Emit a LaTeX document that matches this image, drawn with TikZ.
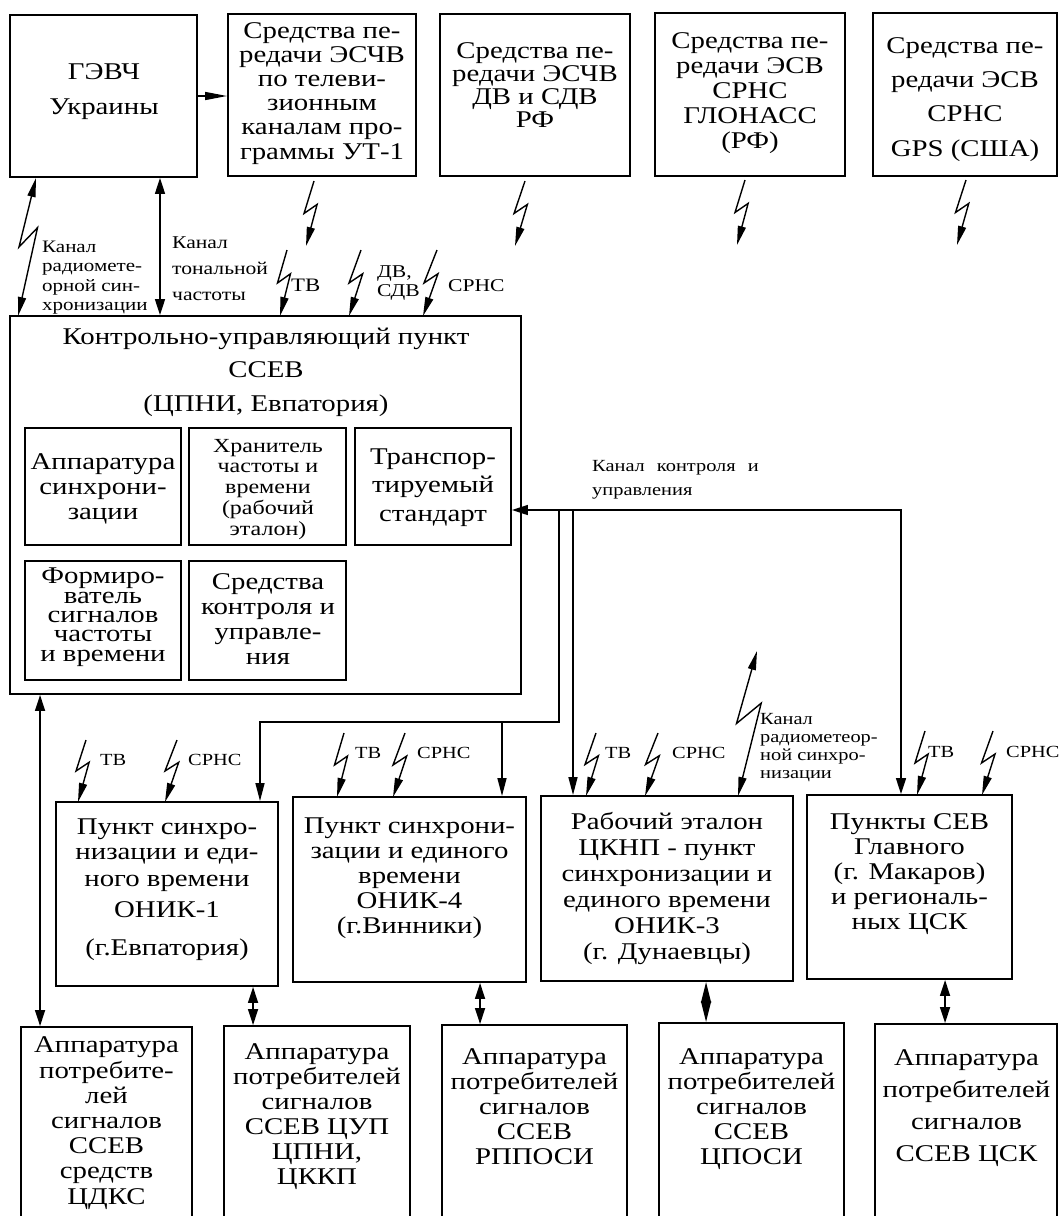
\documentclass[tikz,border=0pt]{standalone}
\usepackage{fontspec}
\setmainfont{Liberation Serif}[FakeStretch=1.2]
\usetikzlibrary{arrows.meta,calc,fit}
\newcommand\myfs[2]{\fontsize{#1}{#2}\selectfont}
\newcommand\zap[4][]{\draw[#1] (#2) -- ($(#2)!0.5!(#3)+(-#4,0)$) -- ($(#2)!0.36!(#3)+(#4,0)$) -- (#3);}
\begin{document}
\begin{tikzpicture}[x=1pt,y=-1pt,
  box/.style={draw, line width=1.9pt, inner sep=0pt},
  txt/.style={align=center, inner sep=0pt, anchor=base},
  lbl/.style={align=left, inner sep=0pt, anchor=base west, font=\myfs{17}{20}},
  arr/.style={line width=1.5pt, -{Triangle[length=18pt,width=9pt]}},
  dbl/.style={line width=1.5pt, {Triangle[length=16pt,width=10pt]}-{Triangle[length=16pt,width=10pt]}},
  bolt/.style={line width=1.4pt, -{Triangle[length=19pt,width=8pt]}},
  dbolt/.style={line width=1.4pt, {Triangle[length=19pt,width=8pt]}-{Triangle[length=19pt,width=8pt]}}]
\useasboundingbox (0,0) rectangle (1060,1216);
\fill[white] (0,0) rectangle (1060,1216);
\clip (0,0) rectangle (1060,1216);

% boxes
\node[box,fit={(10,15)(197,177)}] (gevch) {};
\node[box,fit={(228,14)(416,176)}] (tv) {};
\node[box,fit={(440,14)(630,176)}] (dv) {};
\node[box,fit={(655,13)(845,176)}] (glo) {};
\node[box,fit={(873,13)(1057,176)}] (gps) {};
\node[box,fit={(10,316)(521,694)}] (ctrl) {};
\node[box,fit={(25,428)(181,545)}] (app) {};
\node[box,fit={(189,428)(346,545)}] (hran) {};
\node[box,fit={(355,428)(511,545)}] (trans) {};
\node[box,fit={(25,561)(181,680)}] (form) {};
\node[box,fit={(189,561)(346,680)}] (sk) {};
\node[box,fit={(56,802)(278,986)}] (onik1) {};
\node[box,fit={(293,797)(526,982)}] (onik4) {};
\node[box,fit={(541,796)(793,981)}] (cknp) {};
\node[box,fit={(807,795)(1012,979)}] (sev) {};
\node[box,fit={(21,1027)(192,1240)}] (b1) {};
\node[box,fit={(224,1026)(410,1240)}] (b2) {};
\node[box,fit={(442,1025)(627,1240)}] (b3) {};
\node[box,fit={(659,1023)(844,1240)}] (b4) {};
\node[box,fit={(875,1024)(1057,1240)}] (b5) {};

% texts (anchor base = baseline of the last line)
\node[txt,font=\myfs{24}{35}] (gevch-t) at (104,114) {ГЭВЧ\\Украины};
\node[txt,font=\myfs{24}{24.2}] (tv-t) at (322,159) {Средства пе-\\редачи ЭСЧВ\\по телеви-\\зионным\\каналам про-\\граммы УТ-1};
\node[txt,font=\myfs{24}{22.7}] (dv-t) at (535,127) {Средства пе-\\редачи ЭСЧВ\\ДВ и СДВ\\РФ};
\node[txt,font=\myfs{24}{25}] (glo-t) at (750,148) {Средства пе-\\редачи ЭСВ\\СРНС\\ГЛОНАСС\\(РФ)};
\node[txt,font=\myfs{24}{34.3}] (gps-t) at (965,156) {Средства пе-\\редачи ЭСВ\\СРНС\\GPS (США)};

\node[txt,font=\myfs{24}{33.5}] (ctrl-t) at (266,411) {Контрольно-управляющий пункт\\ССЕВ\\(ЦПНИ, Евпатория)};
\node[txt,font=\myfs{24}{25}] (app-t) at (103,519) {Аппаратура\\синхрони-\\зации};
\node[txt,font=\myfs{20}{20.7}] (hran-t) at (268,535) {Хранитель\\частоты и\\времени\\(рабочий\\эталон)};
\node[txt,font=\myfs{24}{28.5}] (trans-t) at (433,521) {Транспор-\\тируемый\\стандарт};
\node[txt,font=\myfs{24}{19.3}] (form-t) at (103,661) {Формиро-\\ватель\\сигналов\\частоты\\и времени};
\node[txt,font=\myfs{24}{25}] (sk-t) at (268,664) {Средства\\контроля и\\управле-\\ния};

\node[txt,font=\myfs{24}{25}] (onik1-t) at (167,955) {Пункт синхро-\\низации и еди-\\[2pt]ного времени\\[6pt]ОНИК-1\\[13pt](г.Евпатория)};
\node[txt,font=\myfs{24}{25}] (onik4-t) at (409.5,933) {Пункт синхрони-\\зации и единого\\времени\\ОНИК-4\\(г.Винники)};
\node[txt,font=\myfs{24}{26}] (cknp-t) at (667,959) {Рабочий эталон\\ЦКНП - пункт\\синхронизации и\\единого времени\\ОНИК-3\\(г. Дунаевцы)};
\node[txt,font=\myfs{24}{25}] (sev-t) at (909.5,929) {Пункты СЕВ\\Главного\\(г. Макаров)\\и региональ-\\ных ЦСК};

\node[txt,font=\myfs{24}{25.2}] (b1-t) at (106.5,1204) {Аппаратура\\потребите-\\лей\\сигналов\\ССЕВ\\средств\\ЦДКС};
\node[txt,font=\myfs{24}{25}] (b2-t) at (317,1184) {Аппаратура\\потребителей\\сигналов\\ССЕВ ЦУП\\ЦПНИ,\\ЦККП};
\node[txt,font=\myfs{24}{25}] (b3-t) at (534.5,1164) {Аппаратура\\потребителей\\сигналов\\ССЕВ\\РППОСИ};
\node[txt,font=\myfs{24}{25}] (b4-t) at (751.5,1164) {Аппаратура\\потребителей\\сигналов\\ССЕВ\\ЦПОСИ};
\node[txt,font=\myfs{24}{32}] (b5-t) at (966.5,1161) {Аппаратура\\потребителей\\сигналов\\ССЕВ ЦСК};

% labels
\node[lbl,font=\myfs{17.5}{19.5}] (l-rm1) at (42,310.5) {Канал\\радиомете-\\орной син-\\хронизации};
\node[lbl,font=\myfs{18}{26}] (l-ton) at (172,300) {Канал\\тональной\\частоты};
\node[lbl,font=\myfs{19}{20}] (l-tv0) at (291,291) {ТВ};
\node[lbl,font=\myfs{18}{19}] (l-dv0) at (377,296) {ДВ,\\СДВ};
\node[lbl,font=\myfs{18}{20}] (l-sr0) at (448,291) {СРНС};
\node[lbl] (l-tv1) at (100,765) {ТВ};
\node[lbl] (l-sr1) at (188,765) {СРНС};
\node[lbl] (l-tv4) at (355,758) {ТВ};
\node[lbl] (l-sr4) at (417,758) {СРНС};
\node[lbl] (l-tv3) at (605,758) {ТВ};
\node[lbl] (l-sr3) at (672,758) {СРНС};
\node[lbl] (l-tvs) at (928,757) {ТВ};
\node[lbl] (l-srs) at (1006,757) {СРНС};
\node[lbl,font=\myfs{17}{18}] (l-rm2) at (760,778) {Канал\\радиометеор-\\ной синхро-\\низации};
\node[lbl,font=\myfs{17}{24}] (l-ch) at (592,495) {Канал\hspace{12pt}контроля\hspace{12pt}и\\управления};

% straight connectors
\draw[arr,{Triangle[length=22pt,width=8pt]}-] (tv.west |- gevch.east) -- (gevch.east);
\draw[dbl] ([xshift=56.5pt]gevch.south) -- ([xshift=56.5pt]gevch.south |- ctrl.north);
\coordinate (cj1) at (559,510);
\coordinate (cj2) at (573,510);
\coordinate (cj3) at (559,722);
\coordinate (cj4) at (502,722);
\draw[dbl] ([xshift=-8.5pt]sev.north) |- (trans.east |- cj1);
\draw[arr] (cj2) -- (cj2 |- cknp.north);
\draw[arr] (cj1) -- (cj3) -| ([xshift=93pt]onik1.north);
\draw[arr] (cj4) -- (cj4 |- onik4.north);
\draw[dbl] ([xshift=31pt]ctrl.south west) -- ([xshift=31pt]ctrl.south west |- b1.north);
\draw[dbl] ([xshift=198pt]onik1.south west) -- ([xshift=198pt]onik1.south west |- b2.north);
\draw[dbl] ([xshift=188pt]onik4.south west) -- ([xshift=188pt]onik4.south west |- b3.north);
\draw[line width=1.5pt,{Triangle[length=21pt,width=10pt]}-{Triangle[length=21pt,width=10pt]}] ([xshift=166pt]cknp.south west) -- ([xshift=166pt]cknp.south west |- b4.north);
\draw[dbl] ([xshift=139pt]sev.south west) -- ([xshift=139pt]sev.south west |- b5.north);

% lightning connectors
\coordinate (z1a) at (314,181); \coordinate (z1b) at (306,246);
\coordinate (z2a) at (525,181); \coordinate (z2b) at (515,246);
\coordinate (z3a) at (745,180); \coordinate (z3b) at (737,245);
\coordinate (z4a) at (966,180); \coordinate (z4b) at (957,245);
\zap[bolt]{z1a}{z1b}{6}
\zap[bolt]{z2a}{z2b}{6}
\zap[bolt]{z3a}{z3b}{6}
\zap[bolt]{z4a}{z4b}{6}
\coordinate (rm1a) at (36,178); \coordinate (rm1b) at (18,316);
\zap[dbolt]{rm1a}{rm1b}{8}
\coordinate (k1a) at (287,250); \coordinate (k1b) at (280,316);
\coordinate (k2a) at (361,250); \coordinate (k2b) at (349,316);
\coordinate (k3a) at (437,250); \coordinate (k3b) at (423,316);
\zap[bolt]{k1a}{k1b}{6}
\zap[bolt]{k2a}{k2b}{6}
\zap[bolt]{k3a}{k3b}{6}
\coordinate (o1a) at (86,740); \coordinate (o1b) at (78,802);
\coordinate (o2a) at (177,740); \coordinate (o2b) at (165,802);
\coordinate (o3a) at (344,733); \coordinate (o3b) at (337,797);
\coordinate (o4a) at (405,733); \coordinate (o4b) at (393,797);
\coordinate (o5a) at (596,733); \coordinate (o5b) at (586,796);
\coordinate (o6a) at (658,733); \coordinate (o6b) at (645,796);
\coordinate (o7a) at (925,731); \coordinate (o7b) at (917,795);
\coordinate (o8a) at (993,731); \coordinate (o8b) at (982,795);
\zap[bolt]{o1a}{o1b}{6}
\zap[bolt]{o2a}{o2b}{6}
\zap[bolt]{o3a}{o3b}{6}
\zap[bolt]{o4a}{o4b}{6}
\zap[bolt]{o5a}{o5b}{6}
\zap[bolt]{o6a}{o6b}{6}
\zap[bolt]{o7a}{o7b}{6}
\zap[bolt]{o8a}{o8b}{6}
\coordinate (rm2a) at (757,651); \coordinate (rm2b) at (738,796);
\zap[dbolt]{rm2a}{rm2b}{11}
\end{tikzpicture}
\end{document}
